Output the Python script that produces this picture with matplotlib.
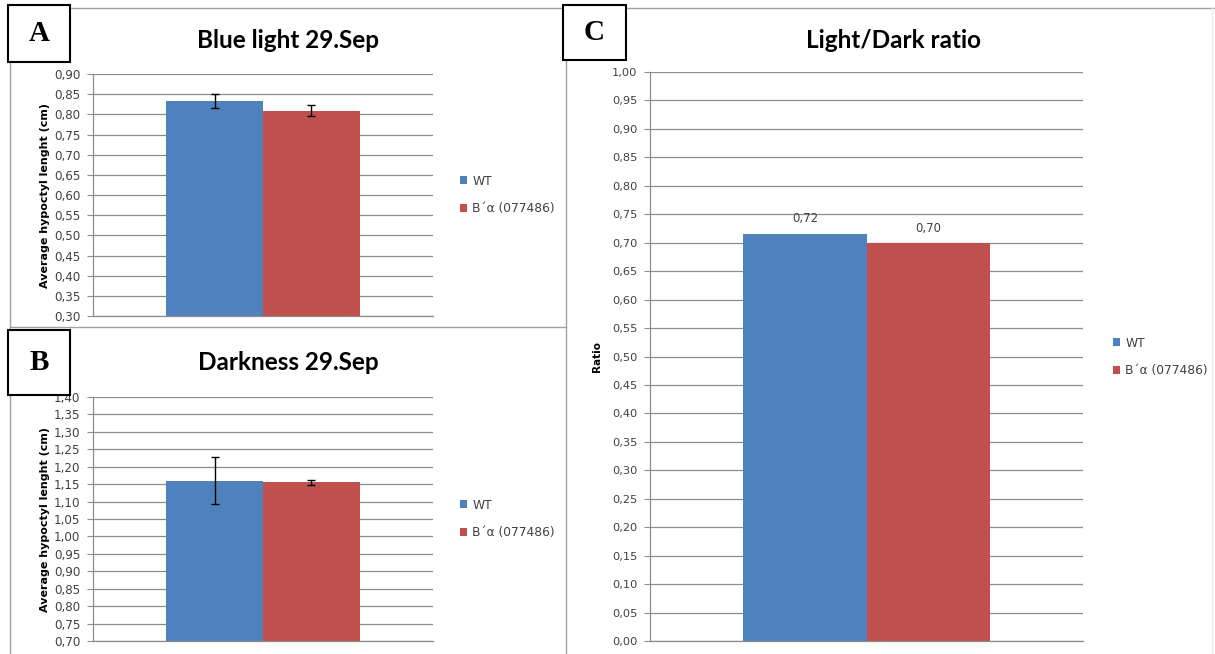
import matplotlib
matplotlib.use('Agg')
import matplotlib.pyplot as plt
import numpy as np
from matplotlib.patches import Rectangle
from matplotlib.lines import Line2D
from matplotlib.ticker import FuncFormatter, MultipleLocator

# ── data ──
groups = ['WT', 'B\u00b4\u03b1 (077486)']
colors = ['#4F81BD', '#C0504D']
blue_vals = [0.833, 0.809]
blue_err = [0.017, 0.014]
dark_vals = [1.160, 1.155]
dark_err = [0.067, 0.0075]
ratio_vals = [0.716, 0.699]

W, H = 1215, 654
fig = plt.figure(figsize=(W / 100, H / 100), dpi=100, facecolor='white')

def px_axes(l, t, r, b):
    return fig.add_axes([l / W, 1 - b / H, (r - l) / W, (b - t) / H])

comma = FuncFormatter(lambda v, p: f'{v:.2f}'.replace('.', ','))
GRID = '#8c8c8c'
TXT = '#404040'
bw = 0.285
xs = np.array([-bw / 2, bw / 2])

def style(ax, lo, hi, fs):
    ax.set_xlim(-0.5, 0.5)
    ax.set_ylim(lo, hi)
    ax.yaxis.set_major_locator(MultipleLocator(0.05))
    ax.yaxis.set_major_formatter(comma)
    ax.grid(axis='y', color=GRID, lw=0.9)
    ax.set_axisbelow(True)
    ax.set_xticks([])
    for s in ['top', 'right']:
        ax.spines[s].set_visible(False)
    for s in ['left', 'bottom']:
        ax.spines[s].set_color(GRID)
        ax.spines[s].set_linewidth(0.9)
    ax.tick_params(axis='y', direction='out', length=4, color=GRID, labelsize=fs, labelcolor=TXT, pad=5)

def legend(ax, bars, x, y):
    ax.legend(bars, groups, loc='center left', bbox_to_anchor=(x / W, 1 - y / H),
              bbox_transform=fig.transFigure, frameon=False, fontsize=8.8,
              labelcolor=TXT, handlelength=0.6, handleheight=0.6, handletextpad=0.4,
              labelspacing=1.2, borderaxespad=0)

# ── A ──
axA = px_axes(93, 74, 433, 316)
barsA = [axA.bar(xs[i], blue_vals[i], width=bw, color=colors[i], yerr=blue_err[i], capsize=3,
                 error_kw=dict(elinewidth=1, ecolor='black', capthick=1)) for i in range(2)]
style(axA, 0.30, 0.90, 8.6)
axA.set_ylabel('Average hypoctyl lenght (cm)', fontsize=8, fontweight='bold', labelpad=3)
legend(axA, barsA, 455, 195)

# ── B ──
axB = px_axes(93, 397, 433, 641)
barsB = [axB.bar(xs[i], dark_vals[i], width=bw, color=colors[i], yerr=dark_err[i], capsize=3,
                 error_kw=dict(elinewidth=1, ecolor='black', capthick=1)) for i in range(2)]
style(axB, 0.70, 1.40, 8.6)
axB.set_ylabel('Average hypoctyl lenght (cm)', fontsize=8, fontweight='bold', labelpad=3)
legend(axB, barsB, 455, 519)

# ── C ──
axC = px_axes(650, 72, 1083, 641)
barsC = [axC.bar(xs[i], ratio_vals[i], width=bw, color=colors[i]) for i in range(2)]
style(axC, 0.0, 1.0, 8.2)
for i in range(2):
    axC.annotate(f'{ratio_vals[i]:.2f}'.replace('.', ','), (xs[i], ratio_vals[i]),
                 xytext=(0, 6), textcoords='offset points', ha='center', va='bottom',
                 fontsize=8.4, color=TXT)
axC.set_ylabel('Ratio', fontsize=7.5, fontweight='bold', labelpad=7)
legend(axC, barsC, 1108, 357)

# ── titles ──
tfont = dict(fontsize=17.5, fontweight='bold', family='Lato', color='black', ha='center', va='center')
fig.text(288 / W, 1 - 40 / H, 'Blue light 29.Sep', **tfont)
fig.text(288 / W, 1 - 362 / H, 'Darkness 29.Sep', **tfont)
fig.text(893 / W, 1 - 40 / H, 'Light/Dark ratio', **tfont)

# ── panel frames ──
fc = '#a0a0a0'
for (x0, y0, x1, y1) in [(10, 8, 1215, 8), (10, 8, 10, 654), (566, 8, 566, 654),
                         (10, 327, 566, 327)]:
    fig.add_artist(Line2D([x0 / W, x1 / W], [1 - y0 / H, 1 - y1 / H], color=fc, lw=1,
                          transform=fig.transFigure))
fig.add_artist(Line2D([1212 / W, 1212 / W], [1 - 8 / H, 0], color='#ececec', lw=1,
                      transform=fig.transFigure))

# ── panel letters ──
for lab, (l, t, r, b) in [('A', (8, 5, 70, 62)), ('B', (8, 330, 70, 395)), ('C', (563, 5, 626, 60))]:
    fig.add_artist(Rectangle((l / W, 1 - b / H), (r - l) / W, (b - t) / H, transform=fig.transFigure,
                             facecolor='white', edgecolor='black', lw=1.5, zorder=5))
    fig.text((l + r) / 2 / W, 1 - (t + b) / 2 / H, lab, family='Liberation Serif', fontweight='bold',
             fontsize=21, ha='center', va='center', zorder=6)

fig.savefig('out.png', dpi=100, facecolor='white')
